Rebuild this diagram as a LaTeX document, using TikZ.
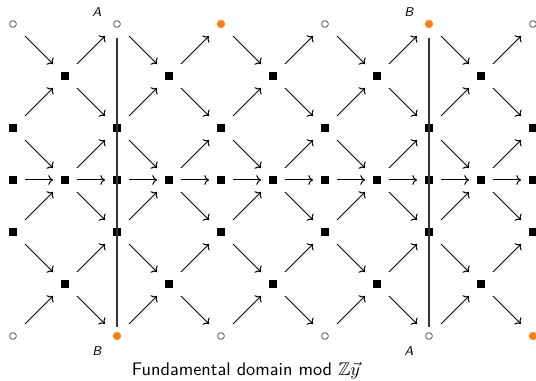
\documentclass[tikz,border=0pt]{standalone}
\usepackage{amssymb}
\usetikzlibrary{arrows.meta}

\definecolor{dotorange}{RGB}{250,130,20}

\tikzset{
  sq/.style={rectangle,fill=black,inner sep=0pt,minimum size=0.16cm,outer sep=0.15cm},
  hollow/.style={circle,draw=black!70,line width=0.4pt,inner sep=0pt,minimum size=0.13cm,outer sep=0.26cm},
  dot/.style={circle,fill=dotorange,inner sep=0pt,minimum size=0.16cm,outer sep=0.25cm},
  lbl/.style={font=\sffamily\itshape\scriptsize,inner sep=0pt},
  arr/.style={line width=0.55pt,-{To[length=2.6pt,width=5.4pt]}},
  wall/.style={draw=black!80,line width=0.6pt}
}

\begin{document}
\begin{tikzpicture}
      \useasboundingbox (-0.25,3.4615) rectangle (10.0577,-3.865);

      \begin{scope}[every node/.style={sq}]
        \foreach \i in {1,3,...,9} {
          \node (\i-1) at (\i,2)  {};
          \node (\i-5) at (\i,-2) {};
        }
        \foreach \i in {0,2,...,10} {
          \node (\i-2) at (\i,1)  {};
          \node (\i-4) at (\i,-1) {};
        }
        \foreach \i in {0,...,10}
          \node (\i-3) at (\i,0) {};
      \end{scope}

      \begin{scope}[every node/.style={hollow}]
        \foreach \i in {0,2,6,10}
          \node (\i-0) at (\i,3) {};
        \foreach \i in {0,4,6,8}
          \node (\i-6) at (\i,-3) {};
      \end{scope}

      \begin{scope}[every node/.style={dot}]
        \node (4-0)  at (4,3)   {};
        \node (8-0)  at (8,3)   {};
        \node (2-6)  at (2,-3)  {};
        \node (10-6) at (10,-3) {};
      \end{scope}

      \begin{scope}[every node/.style={lbl}]
        \node (a1) at (1.615,3.23)  {A};
        \node (b1) at (7.615,3.23)  {B};
        \node (b2) at (1.615,-3.29) {B};
        \node (a2) at (7.615,-3.29) {A};
      \end{scope}

      \draw[wall,shorten <=0.27cm,shorten >=0.17cm] (2-0.center) -- (2-6.center);
      \draw[wall,shorten <=0.27cm,shorten >=0.17cm] (8-0.center) -- (8-6.center);

      \begin{scope}[every edge/.style={draw,arr}]
        \foreach \i in {0,...,9} {
          \pgfmathtruncatemacro\nx{\i+1}
          \pgfmathtruncatemacro\st{mod(\i,2)}
          \pgfmathtruncatemacro\sn{\st+2}
          \path (\i-3) edge (\nx-3);
          \foreach \r in {\st,\sn,...,6} {
            \pgfmathtruncatemacro\up{\r-1}
            \pgfmathtruncatemacro\dn{\r+1}
            \ifnum\r>0 \path (\i-\r) edge (\nx-\up); \fi
            \ifnum\r<6 \path (\i-\r) edge (\nx-\dn); \fi
          }
        }
      \end{scope}

      \node[font=\sffamily] (cap) at (4.48,-3.67) {Fundamental domain mod $\mathbb{Z}\vec{y}$};

    \end{tikzpicture}
\end{document}
